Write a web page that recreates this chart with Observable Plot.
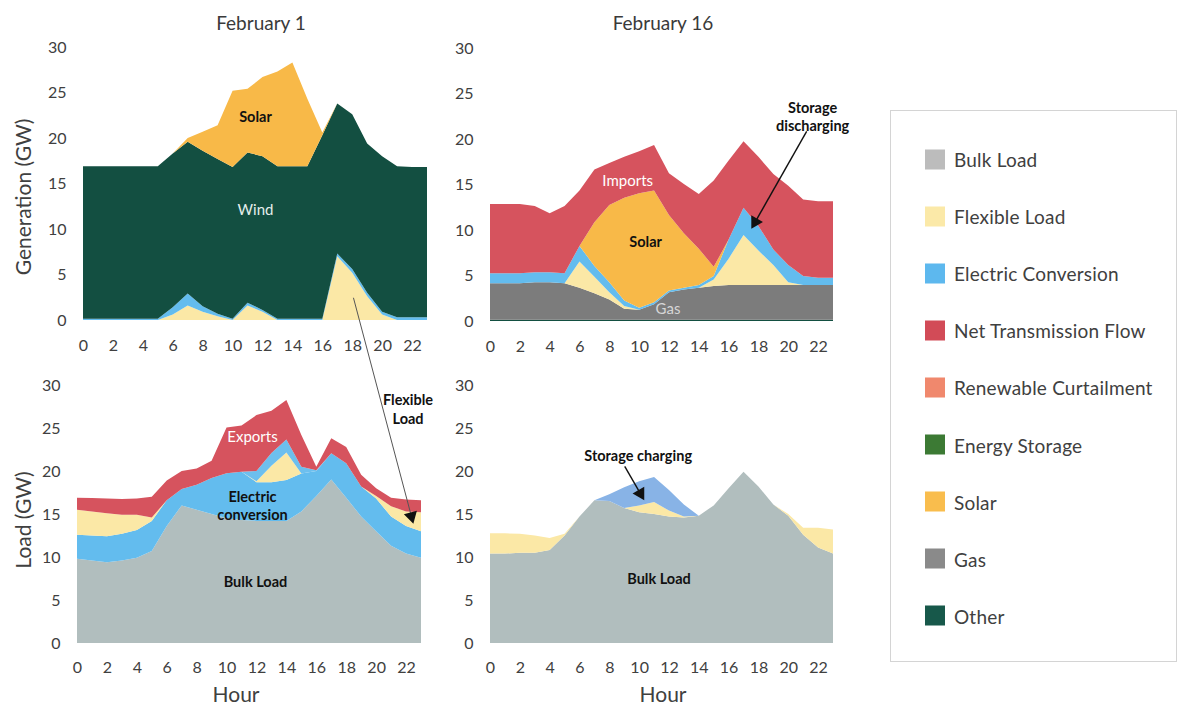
<!DOCTYPE html>
<html><head><meta charset="utf-8">
<script src="https://cdn.jsdelivr.net/npm/d3@7"></script>
<script src="https://cdn.jsdelivr.net/npm/@observablehq/plot@0.6"></script>
<style>
html,body{margin:0;padding:0;background:#fff;}
#root{position:relative;width:1179px;height:706px;overflow:hidden;font-family:Lato,"Open Sans",sans-serif;color:#404040;background:#fff;}
.panel{position:absolute;}
.panel svg{overflow:visible;background:transparent !important;}
.title{position:absolute;font-size:19px;color:#3a3a3a;transform:translate(-50%,-50%);white-space:nowrap;}
.ytitle{position:absolute;font-size:21px;color:#404040;transform:translate(-50%,-50%) rotate(-90deg);white-space:nowrap;}
.xtitle{position:absolute;font-size:21px;color:#404040;transform:translate(-50%,-50%);white-space:nowrap;}
#legend{position:absolute;left:890px;top:110px;width:287px;height:552px;border:1px solid #d4d4d4;box-sizing:border-box;background:#fff;}
.li{position:absolute;left:34px;display:flex;align-items:center;font-size:19px;color:#404040;transform:translateY(-50%);white-space:nowrap;letter-spacing:0.2px;}
.sw{width:20px;height:20px;margin-right:9px;flex:none;}
</style></head>
<body><div id="root"></div>
<script>
// ---------- shared axes ----------
const hours = d3.range(24);
const xTicks = [0, 2, 4, 6, 8, 10, 12, 14, 16, 18, 20, 22];
const yTicks = [0, 5, 10, 15, 20, 25, 30];
const panelTitles = ["February 1", "February 16"];
const yTitles = ["Generation (GW)", "Load (GW)"];
const xTitle = "Hour";

// ---------- legend ----------
const legendNames = ["Bulk Load", "Flexible Load", "Electric Conversion", "Net Transmission Flow",
  "Renewable Curtailment", "Energy Storage", "Solar", "Gas", "Other"];
const legendColors = ["#bcbcbc", "#fbe9a8", "#5db8ee", "#d24b57", "#f0886d", "#3c7a34", "#f9bd4d", "#8a8a8a", "#17584a"];

// colours used by the areas
const areaColors = {
  "Bulk Load": "#b1bebe", "Flexible Load": "#fbe8a6", "Electric Conversion": "#63bcee",
  "Net Transmission Flow": "#d6535e", "Solar": "#f8b948", "Gas": "#7c7c7c",
  "Other": "#134f41", "Storage Flow": "#88b3e6", "Storage Charging": "#6dbfee"
};

// ---------- February 1 generation (GW, layer thickness) ----------
const feb1GenFlexible = [0,0,0,0,0,0,0.6,1.6,0.9,0.4,0,1.6,0.9,0,0,0,0,7.0,5.2,2.6,0.6,0,0,0];
const feb1GenElectric = [0.15,0.15,0.15,0.15,0.15,0.15,0.8,1.3,0.6,0.3,0.15,0.3,0.2,0.15,0.15,0.15,0.15,0.3,0.4,0.4,0.3,0.3,0.3,0.3];
const feb1GenOther    = [16.75,16.75,16.75,16.75,16.75,16.75,16.9,16.7,17.1,17.0,16.65,16.5,16.9,16.75,16.75,16.75,20.15,16.5,17.0,16.4,17.1,16.6,16.5,16.5];
const feb1GenSolar    = [0,0,0,0,0,0,0,0.4,2.1,3.7,8.4,7.0,8.7,10.4,11.4,7.4,0.3,0,0,0,0,0,0,0];

// ---------- February 16 generation ----------
const feb16GenOther    = [0.15,0.15,0.15,0.15,0.15,0.15,0.15,0.15,0.15,0.15,0.15,0.15,0.15,0.15,0.15,0.15,0.15,0.15,0.15,0.15,0.15,0.15,0.15,0.15];
const feb16GenGas      = [4.0,4.0,4.0,4.1,4.1,4.0,3.5,2.9,2.2,1.2,1.1,1.7,3.0,3.3,3.5,3.7,3.8,3.8,3.8,3.8,3.8,3.8,3.8,3.8];
const feb16GenFlexible = [0,0,0,0,0,0,2.9,1.8,0.8,0.3,0,0,0,0,0,0.7,2.9,5.5,3.8,2.2,0.3,0,0,0];
const feb16GenElectric = [1.1,1.1,1.1,1.1,1.1,1.1,1.7,1.2,1.1,0.6,0.2,0.2,0.2,0.2,0.3,0.4,2.1,3.0,2.7,1.7,1.9,1.0,0.8,0.8];
const feb16GenSolar    = [0,0,0,0,0,0,0,4.8,8.5,11.3,12.6,12.3,8.3,6.0,4.0,1.0,0,0,0,0,0,0,0,0];
const feb16GenImports  = [7.6,7.6,7.6,7.3,6.5,7.4,6.1,5.8,4.6,4.5,4.6,5.0,4.6,5.4,6.0,9.5,8.7,7.3,7.6,8.3,8.7,8.4,8.4,8.4];

// ---------- February 1 load ----------
const feb1LoadBulk     = [9.8,9.6,9.4,9.6,9.9,10.7,13.6,16.0,15.5,15.0,14.5,14.3,14.2,14.2,14.2,15.3,17.1,19.0,16.9,14.7,13.0,11.3,10.4,9.9];
const feb1LoadElectric = [2.8,2.9,3.0,3.1,3.25,3.5,3.0,1.9,2.9,4.2,5.25,5.6,4.5,4.5,4.75,4.4,2.9,3.05,4.0,3.5,3.8,3.4,3.2,3.1];
const feb1LoadFlexible = [2.9,2.8,2.7,2.2,1.75,0.4,0,0,0,0,0,0,0.1,1.9,3.2,0,0,0,0,0,0.3,1.2,1.7,2.2];
const feb1LoadStorage  = [0,0,0,0,0,0,0,0,0,0,0,0,1.2,1.5,1.5,0.8,0.1,0,0,0,0,0,0,0];
const feb1LoadExports  = [1.4,1.55,1.7,1.85,1.9,2.4,2.3,2.1,1.9,2.0,5.3,5.4,6.5,4.9,4.6,3.7,0.4,1.75,1.9,1.35,0.9,1.0,1.4,1.4];

// ---------- February 16 load ----------
const feb16LoadBulk     = [10.4,10.4,10.5,10.5,10.8,12.5,14.7,16.6,16.5,15.7,15.2,15.0,14.7,14.6,14.8,16.0,18.0,19.9,18.2,16.1,14.8,12.6,11.1,10.4];
const feb16LoadFlexible = [2.35,2.35,2.2,2.0,1.4,0.2,0,0,0,0,0.8,1.4,0.7,0.1,0,0,0,0,0,0,0.2,0.8,2.3,2.8];
const feb16LoadStorage  = [0,0,0,0,0,0,0,0,0.8,2.4,2.8,2.9,2.4,1.4,0,0,0,0,0,0,0,0,0,0];

// ---------- annotations (data coordinates) ----------
const annTL = [
  {x: 11.5, y: 22.5, text: "Solar", fill: "#111", bold: true},
  {x: 11.5, y: 12.3, text: "Wind", fill: "#e4eeeb", bold: false}
];
const annTR = [
  {x: 9.2, y: 15.6, text: "Imports", fill: "#ffffff", bold: false},
  {x: 10.4, y: 8.8, text: "Solar", fill: "#111", bold: true},
  {x: 11.9, y: 1.5, text: "Gas", fill: "#d6d6d6", bold: false},
  {x: 21.6, y: 22.6, text: "Storage\ndischarging", fill: "#111", bold: true}
];
const annBL = [
  {x: 11.7, y: 24.1, text: "Exports", fill: "#ffffff", bold: false},
  {x: 11.7, y: 16.1, text: "Electric\nconversion", fill: "#111", bold: true},
  {x: 11.9, y: 7.2, text: "Bulk Load", fill: "#111", bold: true},
  {x: 22.1, y: 27.3, text: "Flexible\nLoad", fill: "#111", bold: true}
];
const annBR = [
  {x: 9.9, y: 21.9, text: "Storage charging", fill: "#111", bold: true},
  {x: 11.3, y: 7.6, text: "Bulk Load", fill: "#111", bold: true}
];
const arrowsTR = [{x1: 21.2, y1: 20.9, x2: 17.6, y2: 10.5, stroke: "#111", width: 1.4}];
const arrowsBL = [{x1: 18.45, y1: 40.2, x2: 22.4, y2: 14.3, stroke: "#555", width: 1}];
const arrowsBR = [{x1: 9.0, y1: 20.6, x2: 10.2, y2: 17.0, stroke: "#111", width: 1.4}];

// ---------- layout ----------
const layout = {
  TL: {left: 0,   top: 30,  width: 440, height: 340, marginLeft: 83, marginRight: 13, marginTop: 17, marginBottom: 50, pad: 19},
  TR: {left: 440, top: 30,  width: 420, height: 340, marginLeft: 50, marginRight: 27, marginTop: 18, marginBottom: 49, pad: 19},
  BL: {left: 0,   top: 360, width: 440, height: 340, marginLeft: 77, marginRight: 19, marginTop: 25, marginBottom: 57, pad: 18},
  BR: {left: 440, top: 360, width: 420, height: 340, marginLeft: 50, marginRight: 27, marginTop: 25, marginBottom: 57, pad: 18}
};

function toRows(layers) {
  const rows = [];
  for (const [name, values] of layers) {
    hours.forEach((h, i) => rows.push({hour: h, value: values[i], series: name}));
  }
  return rows;
}

function makePanel(key, layers, ann, arrows) {
  const L = layout[key];
  const rows = toRows(layers);
  const order = layers.map(d => d[0]);
  const pxH = (L.width - L.marginLeft - L.marginRight) / 23;
  const pxG = (L.height - L.marginTop - L.marginBottom) / 30;
  const heads = arrows.map(a => {
    const dx = (a.x2 - a.x1) * pxH, dy = -(a.y2 - a.y1) * pxG;
    const len = Math.hypot(dx, dy);
    const back = 4.5;
    return {
      x: a.x2 - (dx / len) * back / pxH,
      y: a.y2 + (dy / len) * back / pxG,
      rotate: Math.atan2(dx, -dy) * 180 / Math.PI,
      fill: "#111"
    };
  });
  const textOpts = {x: "x", y: "y", text: "text", fill: "fill", fontSize: 15, lineHeight: 1.25, textAnchor: "middle"};
  const marks = [
    Plot.areaY(rows, Plot.stackY({x: "hour", y: "value", z: "series", order,
      fill: d => areaColors[d.series], curve: "linear"})),
    Plot.axisX({ticks: xTicks, tickSize: 0, tickPadding: L.pad, tickFormat: d => String(d), label: null}),
    Plot.axisY({ticks: yTicks, tickSize: 0, tickPadding: 17, label: null}),
    Plot.text(ann.filter(d => !d.bold), {...textOpts, fontWeight: "normal"}),
    Plot.text(ann.filter(d => d.bold), {...textOpts, fontWeight: "bold", fontSize: 14.5}),
    Plot.link(arrows, {x1: "x1", y1: "y1", x2: "x2", y2: "y2", stroke: "stroke", strokeWidth: "width"}),
    Plot.dot(heads, {x: "x", y: "y", symbol: "triangle", r: 5, rotate: "rotate", fill: "fill", stroke: null})
  ];
  const chart = Plot.plot({
    width: L.width, height: L.height,
    marginLeft: L.marginLeft, marginRight: L.marginRight, marginTop: L.marginTop, marginBottom: L.marginBottom,
    x: {domain: [0, 23]},
    y: {domain: [0, 30]},
    color: {type: "identity"},
    strokeWidth: {type: "identity"},
    style: {fontFamily: "Lato, 'Open Sans', sans-serif", fontSize: "16px", color: "#404040", background: "transparent", overflow: "visible"},
    marks
  });
  const div = document.createElement("div");
  div.className = "panel";
  div.style.left = L.left + "px";
  div.style.top = L.top + "px";
  div.appendChild(chart);
  return div;
}

const root = document.getElementById("root");

root.appendChild(makePanel("TL", [
  ["Flexible Load", feb1GenFlexible], ["Electric Conversion", feb1GenElectric],
  ["Other", feb1GenOther], ["Solar", feb1GenSolar]
], annTL, []));
root.appendChild(makePanel("TR", [
  ["Other", feb16GenOther], ["Gas", feb16GenGas], ["Flexible Load", feb16GenFlexible],
  ["Electric Conversion", feb16GenElectric], ["Solar", feb16GenSolar], ["Net Transmission Flow", feb16GenImports]
], annTR, arrowsTR));
root.appendChild(makePanel("BR", [
  ["Bulk Load", feb16LoadBulk], ["Flexible Load", feb16LoadFlexible], ["Storage Flow", feb16LoadStorage]
], annBR, arrowsBR));
root.appendChild(makePanel("BL", [
  ["Bulk Load", feb1LoadBulk], ["Electric Conversion", feb1LoadElectric], ["Flexible Load", feb1LoadFlexible],
  ["Storage Charging", feb1LoadStorage], ["Net Transmission Flow", feb1LoadExports]
], annBL, arrowsBL));

// titles
function addText(cls, text, x, y) {
  const d = document.createElement("div");
  d.className = cls; d.textContent = text;
  d.style.left = x + "px"; d.style.top = y + "px";
  root.appendChild(d);
}
addText("title", panelTitles[0], 261, 22);
addText("title", panelTitles[1], 663, 22);
addText("ytitle", yTitles[0], 22, 197);
addText("ytitle", yTitles[1], 22, 520);
addText("xtitle", xTitle, 236, 693);
addText("xtitle", xTitle, 663, 693);

// legend
const leg = document.createElement("div");
leg.id = "legend";
legendNames.forEach((name, i) => {
  const item = document.createElement("div");
  item.className = "li";
  item.style.top = (48 + i * 57.1) + "px";
  const sw = document.createElement("div");
  sw.className = "sw"; sw.style.background = legendColors[i];
  const t = document.createElement("span"); t.textContent = name;
  item.appendChild(sw); item.appendChild(t);
  leg.appendChild(item);
});
root.appendChild(leg);
</script>
</body></html>
